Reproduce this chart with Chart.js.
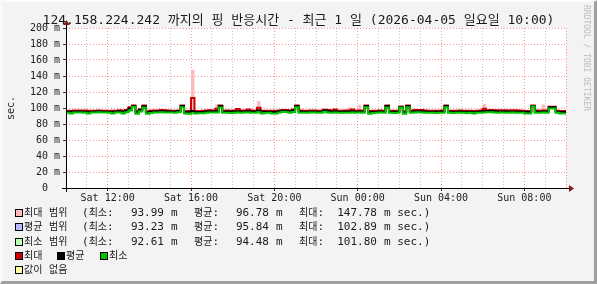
<!DOCTYPE html>
<html>
<head>
<meta charset="utf-8">
<script src="https://cdn.jsdelivr.net/npm/chart.js@4.4.0/dist/chart.umd.min.js"></script>
<style>
  body { margin: 0; background: #f3f3f3; }
  #wrap { position: relative; width: 597px; height: 284px; overflow: hidden; color: #1a1a1a;
          font-family: 'DejaVu Sans Mono', 'Noto Sans CJK KR', monospace; }
  #chart { position: absolute; left: 0; top: 0; }
  #frame { position: absolute; left: 0; top: 0; width: 597px; height: 284px; box-sizing: border-box;
           border-top: 2px solid #fbfbfb; border-left: 2px solid #fbfbfb;
           border-right: 3px solid #a0a0a0; border-bottom: 3px solid #a0a0a0; pointer-events: none; }
  #title { position: absolute; left: 0; top: 12px; width: 597px; text-align: center;
           font-size: 13px; line-height: 16px; white-space: pre; }
  #mark { position: absolute; left: 590px; top: 5px; transform-origin: 0 0; transform: rotate(90deg);
          font-size: 8px; line-height: 8px; color: #bdbdbd; white-space: pre; }
  .row { position: absolute; left: 0; height: 14px; width: 597px; font-size: 11px; line-height: 14px; white-space: pre; }
  .row span { position: absolute; top: 0; }
  .row .k { position: static; font-size: 10px; }
  .row .num { text-align: right; }
  .row .box { top: 3px; width: 6px; height: 6px; border: 1px solid #000; }
</style>
</head>
<body>
<div id="wrap">
  <canvas id="chart" width="597" height="284"></canvas>
  <div id="title"></div>
  <div id="mark">RRDTOOL / TOBI OETIKER</div>
  <div id="legend"></div>
  <div id="frame"></div>
</div>
<script>
// 10 minute bins, Sat 10:00 -> Sun 10:00
const binMinutes = 10;

const maxMs = [
  96.5, 96.6, 96.4, 96.8, 96.9, 97.0, 96.8, 96.5, 96.6, 96.7, 96.9, 96.6,
  96.5, 96.4, 96.5, 96.7, 97.2, 96.6, 97.5, 101.0, 103.0, 96.2, 98.5, 103.0,
  96.0, 96.5, 96.8, 97.0, 97.4, 97.3, 97.0, 96.7, 96.5, 96.9, 103.0, 96.3,
  96.4, 112.5, 96.3, 96.4, 96.5, 96.8, 97.1, 97.0, 99.0, 103.0, 96.7, 96.8,
  96.6, 96.9, 98.7, 96.8, 96.9, 98.0, 96.8, 96.6, 100.4, 96.5, 96.6, 96.7,
  96.5, 96.4, 97.0, 97.6, 97.5, 96.7, 98.0, 103.2, 96.8, 96.6, 96.7, 96.9,
  96.8, 96.6, 96.7, 97.8, 97.5, 96.8, 98.0, 96.7, 96.6, 96.8, 96.8, 98.0,
  96.7, 97.0, 96.6, 103.0, 96.2, 96.5, 96.7, 96.8, 96.6, 103.0, 96.7, 96.5,
  96.6, 101.8, 96.0, 103.0, 96.6, 97.5, 97.6, 97.5, 96.8, 96.6, 96.7, 96.5,
  96.6, 96.8, 103.0, 96.6, 96.5, 96.7, 96.8, 96.6, 96.5, 96.7, 96.3, 96.6,
  96.8, 99.0, 97.3, 97.4, 97.3, 97.1, 97.2, 97.1, 97.0, 97.2, 97.1, 97.0,
  96.7, 96.4, 96.3, 103.0, 96.8, 96.7, 97.0, 96.8, 101.7, 101.7, 96.6, 96.3
];

const avgMs = [
  95.5, 95.4, 95.2, 95.6, 95.7, 95.6, 95.3, 95.1, 95.4, 95.6, 95.8, 95.5,
  95.4, 95.3, 95.0, 95.6, 95.9, 95.2, 96.5, 99.5, 102.5, 94.6, 97.8, 102.3,
  94.5, 95.2, 95.5, 95.8, 96.0, 95.8, 95.6, 95.5, 95.3, 95.9, 102.5, 95.0,
  94.8, 96.3, 94.8, 95.0, 95.1, 95.5, 95.9, 95.7, 96.2, 102.5, 95.4, 95.5,
  95.3, 95.6, 96.0, 95.5, 95.6, 96.0, 95.5, 95.3, 97.0, 94.8, 95.2, 95.4,
  95.0, 95.0, 95.8, 96.5, 96.4, 95.5, 97.0, 102.6, 95.5, 95.3, 95.4, 95.6,
  95.5, 95.3, 95.4, 96.8, 96.2, 95.5, 96.0, 95.4, 95.3, 95.5, 95.5, 96.0,
  95.4, 95.6, 95.3, 102.5, 94.6, 95.2, 95.4, 95.5, 95.3, 102.4, 95.4, 95.2,
  95.3, 101.3, 94.6, 102.5, 95.3, 95.9, 96.0, 95.9, 95.5, 95.3, 95.4, 95.2,
  95.3, 95.5, 102.5, 95.3, 95.2, 95.4, 95.5, 95.3, 95.2, 95.4, 94.8, 95.3,
  95.5, 96.3, 96.2, 96.3, 96.2, 95.6, 95.7, 95.6, 95.5, 95.7, 95.6, 95.5,
  95.4, 95.0, 94.9, 102.5, 95.5, 95.4, 95.6, 95.5, 100.8, 100.8, 95.3, 94.9
];

const minMs = [
  94.3, 94.0, 93.0, 94.4, 94.5, 94.3, 94.1, 93.0, 94.3, 94.5, 94.6, 94.4,
  94.3, 94.0, 93.1, 94.4, 94.5, 93.0, 94.8, 97.0, 101.5, 92.8, 95.5, 100.5,
  92.8, 93.8, 94.3, 94.5, 94.6, 94.4, 94.3, 94.3, 94.1, 94.6, 100.8, 93.0,
  92.9, 93.5, 93.2, 93.3, 93.4, 94.0, 94.4, 94.3, 94.4, 100.5, 94.0, 94.2,
  93.9, 94.2, 94.4, 94.1, 94.3, 94.4, 94.2, 94.0, 94.6, 93.0, 93.8, 94.1,
  93.2, 93.1, 94.4, 95.2, 95.0, 94.2, 95.0, 101.0, 94.1, 94.0, 94.2, 94.4,
  94.3, 94.0, 94.2, 95.2, 94.5, 94.2, 94.3, 94.1, 94.0, 94.2, 94.2, 94.4,
  94.1, 94.3, 94.0, 100.8, 92.8, 93.9, 94.2, 94.3, 94.0, 100.5, 94.1, 93.9,
  94.0, 100.5, 92.8, 101.0, 94.0, 94.5, 94.6, 94.5, 94.2, 94.0, 94.1, 93.9,
  94.0, 94.2, 100.8, 94.0, 93.9, 94.1, 94.2, 94.0, 93.9, 94.1, 93.0, 94.0,
  94.2, 94.4, 94.6, 94.6, 94.5, 94.2, 94.3, 94.2, 94.1, 94.3, 94.2, 94.1,
  94.0, 93.0, 93.0, 101.8, 94.2, 94.1, 94.3, 94.2, 99.3, 99.3, 94.0, 93.2
];

// bins where the max range pokes above the max line
const peakBins = [20, 37, 44, 56, 67, 82, 85, 121, 138];
const peakMs = [104.6, 147.78, 104.6, 108.7, 103.7, 101.0, 104.0, 105.0, 104.5];

const xTickHours = [2, 6, 10, 14, 18, 22];
const xTickLabels = ['Sat 12:00', 'Sat 16:00', 'Sat 20:00', 'Sun 00:00', 'Sun 04:00', 'Sun 08:00'];

const titleText = '124.158.224.242 까지의 핑 반응시간 - 최근 1 일 (2026-04-05 일요일 10:00)';

const rangeLabels = ['최대 범위', '평균 범위', '최소 범위'];
const rangeMin = [93.99, 93.23, 92.61];
const rangeAvg = [96.78, 95.84, 94.48];
const rangeMax = [147.78, 102.89, 101.80];
const lineLabels = ['최대', '평균', '최소'];
const unknownLabel = '값이 없음';

const RED = '#cc0000';
const GREEN = '#00c400';
const PINK = '#ffbbbb';
const rangeColors = [PINK, '#bbbbff', '#bbffbb'];
const lineColors = [RED, '#000000', GREEN];
const MAJOR = 'rgba(255, 60, 60, 0.55)';
const MINOR = 'rgba(150, 150, 150, 0.55)';

function toPoints(arr) {
  const pts = arr.map((v, i) => ({ x: i * binMinutes / 60, y: v }));
  pts.push({ x: arr.length * binMinutes / 60, y: arr[arr.length - 1] });
  return pts;
}

const peakSeries = maxMs.slice();
peakBins.forEach((b, i) => { peakSeries[b] = peakMs[i]; });

document.getElementById('title').textContent = titleText;

// legend rows, laid out like the rrdtool legend
const rowTops = [206, 220, 235, 249, 263];
function hangul(s) {
  return s.replace(/([\uAC00-\uD7A3]+)/g, '<span class="k">$1</span>');
}
function box(x, color) {
  return `<span class="box" style="left:${x}px;background:${color}"></span>`;
}
function txt(x, s) {
  return `<span style="left:${x}px">${hangul(s)}</span>`;
}
function num(right, v) {
  return `<span class="num" style="left:${right - 50}px;width:50px">${v.toFixed(2)}</span>`;
}
let legendHtml = [];
rangeLabels.forEach((name, i) => {
  legendHtml.push(`<div class="row" style="top:${rowTops[i]}px">` +
    box(15, rangeColors[i]) + txt(24, name) +
    txt(82, '(최소:') + num(164, rangeMin[i]) + txt(171, 'm') +
    txt(194, '평균:') + num(269, rangeAvg[i]) + txt(276, 'm') +
    txt(299, '최대:') + num(377, rangeMax[i]) + txt(384, 'm sec.)') + '</div>');
});
const lineX = [15, 57, 100];
let r4 = `<div class="row" style="top:${rowTops[3]}px">`;
lineLabels.forEach((name, i) => {
  r4 += box(lineX[i], lineColors[i]) + txt(lineX[i] + 9, name);
});
legendHtml.push(r4 + '</div>');
legendHtml.push(`<div class="row" style="top:${rowTops[4]}px">${box(15, '#ffffa0')}${txt(24, unknownLabel)}</div>`);
document.getElementById('legend').innerHTML = legendHtml.join('');

const rrdFrame = {
  id: 'rrdFrame',
  beforeDraw(chart) {
    const a = chart.chartArea;
    const c = chart.ctx;
    c.save();
    c.fillStyle = '#ffffff';
    c.fillRect(a.left, a.top, a.right - a.left, a.bottom - a.top);
    c.restore();
  },
  afterDraw(chart) {
    const a = chart.chartArea;
    const c = chart.ctx;
    const x0 = a.left + 0.5;
    const y0 = a.bottom + 0.5;
    c.save();
    c.strokeStyle = '#000';
    c.lineWidth = 1;
    c.beginPath();
    c.moveTo(a.left - 4, y0);
    c.lineTo(a.right + 4, y0);
    c.moveTo(x0, a.bottom + 4);
    c.lineTo(x0, a.top - 4);
    c.stroke();
    c.fillStyle = '#8b1a1a';
    c.beginPath();
    c.moveTo(a.right + 3, y0 - 3.5);
    c.lineTo(a.right + 8, y0);
    c.lineTo(a.right + 3, y0 + 3.5);
    c.fill();
    c.beginPath();
    c.moveTo(x0 - 3.5, a.top - 3);
    c.lineTo(x0, a.top - 8);
    c.lineTo(x0 + 3.5, a.top - 3);
    c.fill();
    c.restore();
  }
};

const tickFont = { family: 'DejaVu Sans Mono', size: 10 };

new Chart(document.getElementById('chart'), {
  type: 'line',
  data: {
    datasets: [
      {
        label: 'max range',
        data: toPoints(peakSeries),
        stepped: 'after',
        borderWidth: 0,
        pointRadius: 0,
        backgroundColor: PINK,
        fill: 2,
        order: 4
      },
      {
        label: '최대',
        data: toPoints(maxMs),
        stepped: 'after',
        borderColor: RED,
        borderWidth: 2,
        pointRadius: 0,
        fill: false,
        order: 3
      },
      {
        label: '평균',
        data: toPoints(avgMs),
        stepped: 'after',
        borderColor: '#000000',
        borderWidth: 2,
        pointRadius: 0,
        fill: false,
        order: 2
      },
      {
        label: '최소',
        data: toPoints(minMs),
        stepped: 'after',
        borderColor: GREEN,
        borderWidth: 2,
        pointRadius: 0,
        fill: false,
        order: 1
      }
    ]
  },
  options: {
    responsive: false,
    animation: false,
    layout: { padding: { left: 0, top: 28, right: 31, bottom: 76 } },
    plugins: {
      legend: { display: false },
      tooltip: { enabled: false },
      title: { display: false }
    },
    scales: {
      x: {
        type: 'linear',
        min: 0,
        max: 24,
        afterFit: (s) => { s.height = 20; },
        border: { display: false, dash: [1, 2] },
        grid: {
          color: (c) => (xTickHours.includes(c.tick.value) || c.tick.value === 24 ? MAJOR : MINOR),
          tickLength: 3,
          tickColor: (c) => (xTickHours.includes(c.tick.value) ? '#333' : 'rgba(0,0,0,0)')
        },
        ticks: {
          stepSize: 1,
          autoSkip: false,
          maxRotation: 0,
          padding: 1,
          color: '#222',
          font: tickFont,
          callback: (v) => {
            const i = xTickHours.indexOf(v);
            return i >= 0 ? xTickLabels[i] : '';
          }
        }
      },
      y: {
        min: 0,
        max: 200,
        afterFit: (s) => { s.width = 66; },
        border: { display: false, dash: [1, 2] },
        grid: {
          color: (c) => (c.tick.value % 20 === 0 ? MAJOR : MINOR),
          tickLength: 3,
          tickColor: (c) => (c.tick.value % 20 === 0 ? '#333' : 'rgba(0,0,0,0)')
        },
        title: {
          display: true,
          text: 'sec.',
          color: '#222',
          font: tickFont,
          padding: { top: 5, bottom: 0 }
        },
        ticks: {
          stepSize: 10,
          padding: 3,
          color: '#222',
          font: tickFont,
          callback: (v) => (v % 20 !== 0 ? '' : v === 0 ? '0  ' : v + ' m')
        }
      }
    }
  },
  plugins: [rrdFrame]
});
</script>
</body>
</html>
